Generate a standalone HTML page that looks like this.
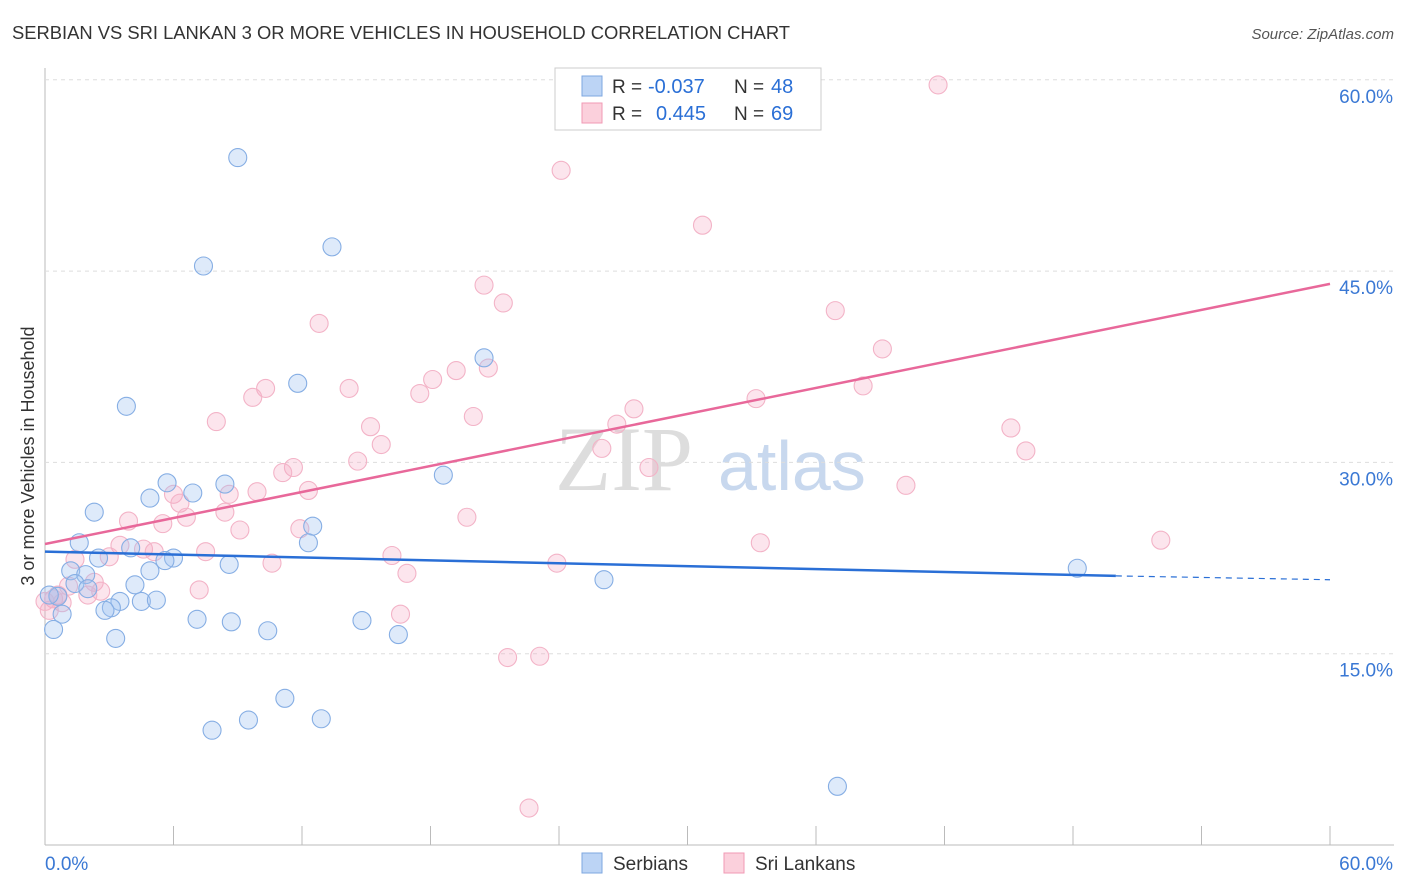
<!DOCTYPE html>
<html><head><meta charset="utf-8"><style>
body{margin:0;background:#fff;font-family:"Liberation Sans",sans-serif}
svg{display:block}
</style></head><body>
<svg id="c" width="1406" height="892">
<text x="12" y="39" font-size="18.4" fill="#333" textLength="778">SERBIAN VS SRI LANKAN 3 OR MORE VEHICLES IN HOUSEHOLD CORRELATION CHART</text>
<text x="1394" y="39" font-size="15" fill="#555" text-anchor="end" font-style="italic">Source: ZipAtlas.com</text>
<text transform="translate(34,456) rotate(-90)" font-size="18" fill="#333" text-anchor="middle">3 or more Vehicles in Household</text>
<text x="555" y="490" font-size="92" fill="#ddd" font-family="Liberation Serif,serif">ZIP</text>
<text x="718" y="490" font-size="70" fill="#c8d8ee">atlas</text>
<g id="grid"></g><g id="pts"></g><g id="lines"></g>
<g>
<rect x="555" y="68" width="266" height="62" fill="#fff" stroke="#ccc"/>
<rect x="582" y="76" width="20" height="20" fill="#bcd4f5" stroke="#7ea7e0"/>
<rect x="582" y="103" width="20" height="20" fill="#fbd0dc" stroke="#f09ab4"/>
<text x="612" y="93" font-size="19" fill="#333">R =</text>
<text x="648" y="93" font-size="20" fill="#2a6fd6">-0.037</text>
<text x="734" y="93" font-size="19" fill="#333">N =</text>
<text x="771" y="93" font-size="20" fill="#2a6fd6">48</text>
<text x="612" y="120" font-size="19" fill="#333">R =</text>
<text x="656" y="120" font-size="20" fill="#2a6fd6">0.445</text>
<text x="734" y="120" font-size="19" fill="#333">N =</text>
<text x="771" y="120" font-size="20" fill="#2a6fd6">69</text>
</g>
<g>
<rect x="582" y="853" width="20" height="20" fill="#bcd4f5" stroke="#7ea7e0"/>
<text x="613" y="870" font-size="19" fill="#333">Serbians</text>
<rect x="724" y="853" width="20" height="20" fill="#fbd0dc" stroke="#f09ab4"/>
<text x="755" y="870" font-size="19" fill="#333">Sri Lankans</text>
</g>
</svg>
<script>
const yTicks=[15,30,45,60];
const xTickLabels=["0.0%","60.0%"];
const serbX=[9,7.4,13.4,11.8,20.5,3.8,18.6,5.7,4.9,6.9,8.4,2.3,12.5,12.3,1.6,4,2.5,6,5.6,8.6,4.9,1.2,1.9,1.4,4.2,2,3.5,4.5,5.2,0.6,0.2,3.1,2.8,0.8,0.4,3.3,7.1,8.7,10.4,14.8,16.5,26.1,48.2,11.2,7.8,9.5,12.9,37];
const serbY=[53.9,45.4,46.9,36.2,38.2,34.4,29,28.4,27.2,27.6,28.3,26.1,25,23.7,23.7,23.3,22.5,22.5,22.3,22,21.5,21.5,21.2,20.5,20.4,20.1,19.1,19.1,19.2,19.5,19.6,18.6,18.4,18.1,16.9,16.2,17.7,17.5,16.8,17.6,16.5,20.8,21.7,11.5,9,9.8,9.9,4.6];
const slX=[41.7,24.1,30.7,20.5,21.4,36.9,12.8,39.1,10.3,14.2,9.7,17.5,18.1,19.2,20.7,38.2,33.2,27.5,26.7,20,15.2,8,15.7,26,45.1,45.8,14.6,28.2,11.6,11.1,40.2,6,12.3,9.9,8.6,6.3,8.4,6.6,3.9,5.5,19.7,11.9,9.1,33.4,52.1,3.5,4.6,5.1,7.5,3,1.4,16.2,23.9,10.6,16.9,2.3,1.1,7.2,2.6,0.6,2,0.4,0.8,0.2,16.6,21.6,23.1,22.6,0];
const slY=[59.6,52.9,48.6,43.9,42.5,41.9,40.9,38.9,35.8,35.8,35.1,35.4,36.5,37.2,37.4,36,35,34.2,33,33.6,32.8,33.2,31.4,31.1,32.7,30.9,30.1,29.6,29.6,29.2,28.2,27.5,27.8,27.7,27.5,26.8,26.1,25.7,25.4,25.2,25.7,24.8,24.7,23.7,23.9,23.5,23.2,23,23,22.6,22.4,22.7,22.1,22.1,21.3,20.6,20.3,20,19.9,19.6,19.6,19.3,19,18.4,18.1,14.7,14.8,2.9,19.1];
const NS='http://www.w3.org/2000/svg';
const X=v=>45+v/60*1285, Y=v=>845-v/15*191.3;
function mk(t,a,p){const e=document.createElementNS(NS,t);for(const k in a)e.setAttribute(k,a[k]);p.appendChild(e);return e;}
const g=document.getElementById('grid');
mk('line',{x1:45,y1:68,x2:45,y2:845,stroke:'#bbb'},g);
mk('line',{x1:45,y1:845,x2:1394,y2:845,stroke:'#bbb'},g);
yTicks.forEach(t=>{const l=mk('line',{x1:45,y1:Y(t),x2:1394,y2:Y(t),stroke:'#ddd','stroke-dasharray':'4 4'},g);


const tx=mk('text',{x:1393,y:Y(t)+23,'font-size':19,fill:'#3a78d4','text-anchor':'end'},g);tx.textContent=t.toFixed(1)+'%';

});
for(let i=1;i<=10;i++){const x=45+i*128.5;mk('line',{x1:x,y1:826,x2:x,y2:845,stroke:'#bbb'},g);}
const t0=mk('text',{x:45,y:870,'font-size':19,fill:'#3a78d4'},g);t0.textContent=xTickLabels[0];


const t1=mk('text',{x:1393,y:870,'font-size':19,fill:'#3a78d4','text-anchor':'end'},g);t1.textContent=xTickLabels[1];


const p=document.getElementById('pts');
slX.forEach((v,i)=>{const c=mk('circle',{cx:X(v),cy:Y(slY[i]),r:9,fill:'rgba(246,170,195,0.3)',stroke:'#f3b3c7','stroke-width':1.1},p);

});
serbX.forEach((v,i)=>{const c=mk('circle',{cx:X(v),cy:Y(serbY[i]),r:9,fill:'rgba(160,196,240,0.35)',stroke:'#86aee4','stroke-width':1.1},p);

});
const L=document.getElementById('lines');
const bl=mk('line',{x1:X(0),y1:Y(23),x2:X(50),y2:Y(21.1),stroke:'#2a6fd6','stroke-width':2.5},L);


mk('line',{x1:X(50),y1:Y(21.1),x2:X(60),y2:Y(20.8),stroke:'#2a6fd6','stroke-width':1.2,'stroke-dasharray':'6 5'},L);
const pl=mk('line',{x1:X(0),y1:Y(23.6),x2:X(60),y2:Y(44),stroke:'#e8689a','stroke-width':2.5},L);


</script>
</body></html>
